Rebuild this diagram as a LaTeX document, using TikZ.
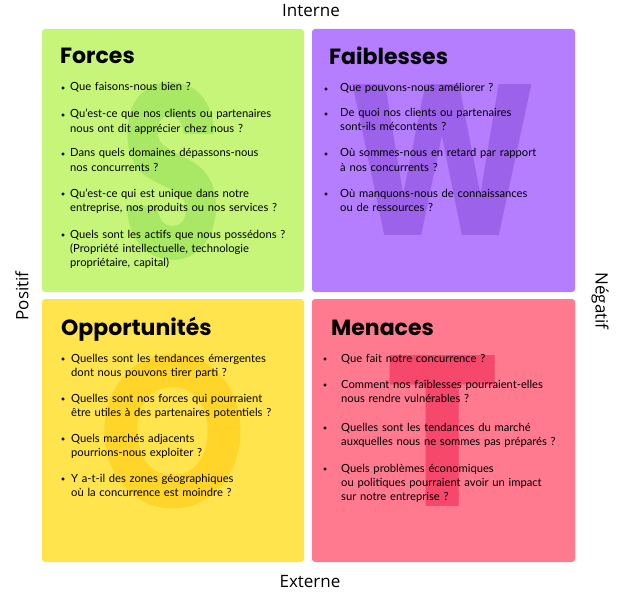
\documentclass[tikz,border=0pt]{standalone}
\usepackage{fontspec}
\setmainfont{Poppins}
\newfontfamily\textefont{Lato}
\newfontfamily\axefont{Open Sans}
\usetikzlibrary{positioning}
\definecolor{forcesfond}{HTML}{C6F57A}
\definecolor{forceslettre}{HTML}{A9E864}
\definecolor{faiblesfond}{HTML}{B57DFF}
\definecolor{faibleslettre}{HTML}{9C62EA}
\definecolor{opportfond}{HTML}{FFE44D}
\definecolor{opportlettre}{HTML}{FFD52A}
\definecolor{menacefond}{HTML}{FF7A8F}
\definecolor{menacelettre}{HTML}{F5486A}
\tikzset{
  titre/.style={anchor=base west, inner sep=0pt, font=\fontsize{22}{22}\selectfont\bfseries},
  question/.style={anchor=base west, inner sep=0pt, text width=250pt, align=left, font=\textefont\fontsize{11.2}{14}\selectfont},
  axe/.style={inner sep=0pt, font=\axefont\fontsize{17}{17}\selectfont},
  filigrane/.style={inner sep=0pt, font=\fontsize{215}{215}\selectfont\bfseries}
}
\begin{document}
\begin{tikzpicture}[x=1pt,y=-1pt]
			\useasboundingbox (0,0) rectangle (617,596);
			% les quatre cases
			\fill [forcesfond, rounded corners=3pt] (42,29) rectangle (304,292);
			\fill [faiblesfond, rounded corners=3pt] (312,29) rectangle (575,292);
			\fill [opportfond, rounded corners=3pt] (42,299) rectangle (304,562);
			\fill [menacefond, rounded corners=3pt] (312,299) rectangle (575,562);
			% lettres en filigrane
			\node [filigrane, text=forceslettre] (lettreS) at (172,171) {\scalebox{0.78}[1.15]{S}};
			\node [filigrane, text=faibleslettre] (lettreW) at (442,160) {\scalebox{0.83}[1]{W}};
			\node [filigrane, text=opportlettre] (lettreO) at (173,432) {\scalebox{0.88}[1]{O}};
			\node [filigrane, text=menacelettre] (lettreT) at (443,431) {\scalebox{0.9}[1]{T}};
			% titres
			\node [titre] (forces) at (60,64) {Forces};
			\node [titre] (faiblesses) at (329,65) {Faiblesses};
			\node [titre] (opportunites) at (61,335) {Opportunités};
			\node [titre] (menaces) at (331,335) {Menaces};
			% forces
			\draw [fill=black] (63,88) circle (1.3pt);
			\draw [fill=black] (63,115) circle (1.3pt);
			\draw [fill=black] (63,154) circle (1.3pt);
			\draw [fill=black] (63,194) circle (1.3pt);
			\draw [fill=black] (63,235) circle (1.3pt);
			\node [question] (f1) at (70,91) {Que faisons-nous bien~?};
			\node [question] (f2) at (70,118) {Qu’est-ce que nos clients ou partenaires\\nous ont dit apprécier chez nous~?};
			\node [question] (f3) at (70,157) {Dans quels domaines dépassons-nous\\nos concurrents~?};
			\node [question] (f4) at (70,197) {Qu’est-ce qui est unique dans notre\\entreprise, nos produits ou nos services~?};
			\node [question] (f5) at (70,238) {Quels sont les actifs que nous possédons~?\\(Propriété intellectuelle, technologie\\propriétaire, capital)};
			% faiblesses
			\draw [fill=black] (326,89) circle (1.3pt);
			\draw [fill=black] (326,114) circle (1.3pt);
			\draw [fill=black] (326,154) circle (1.3pt);
			\draw [fill=black] (326,194) circle (1.3pt);
			\node [question] (w1) at (340,92) {Que pouvons-nous améliorer~?};
			\node [question] (w2) at (340,117) {De quoi nos clients ou partenaires\\sont-ils mécontents~?};
			\node [question] (w3) at (340,157) {Où sommes-nous en retard par rapport\\à nos concurrents~?};
			\node [question] (w4) at (340,197) {Où manquons-nous de connaissances\\ou de ressources~?};
			% opportunites
			\draw [fill=black] (63,359) circle (1.3pt);
			\draw [fill=black] (63,399) circle (1.3pt);
			\draw [fill=black] (63,439) circle (1.3pt);
			\draw [fill=black] (63,479) circle (1.3pt);
			\node [question] (o1) at (71,362) {Quelles sont les tendances émergentes\\dont nous pouvons tirer parti~?};
			\node [question] (o2) at (71,402) {Quelles sont nos forces qui pourraient\\être utiles à des partenaires potentiels~?};
			\node [question] (o3) at (71,442) {Quels marchés adjacents\\pourrions-nous exploiter~?};
			\node [question] (o4) at (71,482) {Y a-t-il des zones géographiques\\où la concurrence est moindre~?};
			% menaces
			\draw [fill=black] (325,359) circle (1.3pt);
			\draw [fill=black] (325,385) circle (1.3pt);
			\draw [fill=black] (325,428) circle (1.3pt);
			\draw [fill=black] (325,469) circle (1.3pt);
			\node [question] (t1) at (341,362) {Que fait notre concurrence~?};
			\node [question] (t2) at (341,388) {Comment nos faiblesses pourraient-elles\\nous rendre vulnérables~?};
			\node [question] (t3) at (341,431) {Quelles sont les tendances du marché\\auxquelles nous ne sommes pas préparés~?};
			\node [question] (t4) at (341,472) {Quels problèmes économiques\\ou politiques pourraient avoir un impact\\sur notre entreprise~?};
			% axes
			\node [axe] (interne) at (311,11) {Interne};
			\node [axe] (externe) at (310,582) {Externe};
			\node [axe, rotate=90] (positif) at (22,296) {Positif};
			\node [axe, rotate=-90] (negatif) at (600,301) {Négatif};
		\end{tikzpicture}
\end{document}
